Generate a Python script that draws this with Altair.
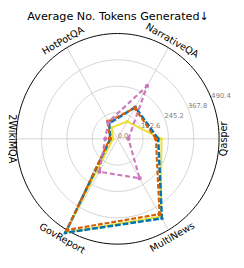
import math
import altair as alt
import pandas as pd

# ---------------- data ----------------
categories = ["Qasper", "NarrativeQA", "HotPotQA", "2WikiMQA", "GovReport", "MultiNews"]
blue_vals = [196, 170, 83, 35, 505, 428]
orange_vals = [185, 165, 92, 38, 490, 405]
yellow_vals = [212, 93, 60, 22, 505, 418]
pink_vals = [52, 284, 90, 60, 177, 212]
radial_ticks = [0.0, 122.6, 245.2, 367.8, 490.4]
tick_labels = ["0.0", "122.6", "245.2", "367.8", "490.4"]
title_text = "Average No. Tokens Generated↓"
R_MAX = 490.4

# ---------------- layout constants ----------------
W, H = 236, 252
CX, CY = 113.5, 131.0        # centre in plot pixels
RX, RY = 105.0, 109.0        # outer radius in pixels
ux = R_MAX / RX
uy = R_MAX / RY
xdom = [-CX * ux, (W - CX) * ux]
ydom = [-(H - CY) * uy, CY * uy]
xs = alt.Scale(domain=xdom, nice=False, zero=False)
ys = alt.Scale(domain=ydom, nice=False, zero=False)
X = lambda f: alt.X(f"{f}:Q", scale=xs, axis=None)
Y = lambda f: alt.Y(f"{f}:Q", scale=ys, axis=None)

n = len(categories)
angles = [2 * math.pi * i / n for i in range(n)]


def polygon(vals):
    rows = []
    for k in range(n + 1):
        i = k % n
        rows.append({"idx": k, "cat": categories[i], "v": vals[i],
                     "x": vals[i] * math.cos(angles[i]),
                     "y": vals[i] * math.sin(angles[i])})
    return pd.DataFrame(rows)


# grid circles
circ_rows = []
for r in radial_ticks[1:]:
    for d in range(0, 361, 2):
        a = math.radians(d)
        circ_rows.append({"r": r, "d": d, "x": r * math.cos(a), "y": r * math.sin(a)})
circ = pd.DataFrame(circ_rows)
inner = circ[circ["r"] < R_MAX]
outer = circ[circ["r"] >= R_MAX]

spokes = pd.DataFrame([{"x": 0.0, "y": 0.0,
                        "x2": R_MAX * math.cos(a), "y2": R_MAX * math.sin(a)} for a in angles])

ta = math.radians(22.5)
rlab = pd.DataFrame([{"t": t, "x": r * math.cos(ta), "y": r * math.sin(ta)}
                     for r, t in zip(radial_ticks, tick_labels)])

rots = [270, 30, 330, 90, 30, 330]
facs = [1.045, 1.075, 1.075, 1.043, 1.095, 1.08]
clab = pd.DataFrame([{"t": c, "rot": rot,
                      "x": R_MAX * f * math.cos(a), "y": R_MAX * f * math.sin(a)}
                     for c, a, rot, f in zip(categories, angles, rots, facs)])

# title position (plot pixels -> data units)
title_df = pd.DataFrame([{"t": title_text,
                          "x": (114.0 - CX) * ux,
                          "y": (CY - 4.5) * uy}])

grid_inner = alt.Chart(inner).mark_line(color="#c8c8c8", strokeWidth=0.8).encode(
    x=X("x"), y=Y("y"), detail="r:N", order="d:Q")
grid_outer = alt.Chart(outer).mark_line(color="black", strokeWidth=1).encode(
    x=X("x"), y=Y("y"), order="d:Q")
spoke_layer = alt.Chart(spokes).mark_rule(color="#c8c8c8", strokeWidth=0.8).encode(
    x=X("x"), y=Y("y"), x2="x2:Q", y2="y2:Q")
rlab_layer = alt.Chart(rlab).mark_text(align="left", baseline="bottom", font="DejaVu Sans",
                                       fontSize=7, color="#808080").encode(
    x=X("x"), y=Y("y"), text="t:N")
clab_layer = alt.Chart(clab).mark_text(align="center", baseline="middle", font="DejaVu Sans",
                                       fontSize=10, color="black").encode(
    x=X("x"), y=Y("y"), text="t:N", angle=alt.Angle("rot:Q", scale=None))
title_layer = alt.Chart(title_df).mark_text(align="center", baseline="middle", font="DejaVu Sans",
                                            fontSize=11.6, color="black").encode(
    x=X("x"), y=Y("y"), text="t:N")


def series(vals, color, dash, width, msize):
    df = polygon(vals)
    line_kwargs = dict(color=color, strokeWidth=width, clip=False)
    if dash:
        line_kwargs["strokeDash"] = dash
    ln = alt.Chart(df).mark_line(**line_kwargs).encode(x=X("x"), y=Y("y"), order="idx:Q")
    pt = alt.Chart(df[df["idx"] < n]).mark_circle(color=color, size=msize, opacity=1).encode(
        x=X("x"), y=Y("y"))
    return ln + pt


blue = series(blue_vals, "#0173B2", [6, 2], 2.6, 12)
yellow = series(yellow_vals, "#ECE133", [], 2.0, 12)
orange = series(orange_vals, "#D55E00", [5, 2], 2.2, 20)
pink = series(pink_vals, "#CC78BC", [5, 3], 2.2, 20)

chart = alt.layer(
    grid_inner, spoke_layer, grid_outer, rlab_layer,
    yellow, blue, orange, pink, clab_layer, title_layer,
).properties(
    width=W, height=H,
    autosize=alt.AutoSizeParams(type="none"),
    padding={"left": 0, "top": 0, "right": 0, "bottom": 0},
).configure_view(stroke=None).configure_axis(grid=False)

chart.save("out.html", embed_options={"renderer": "svg", "actions": False})
